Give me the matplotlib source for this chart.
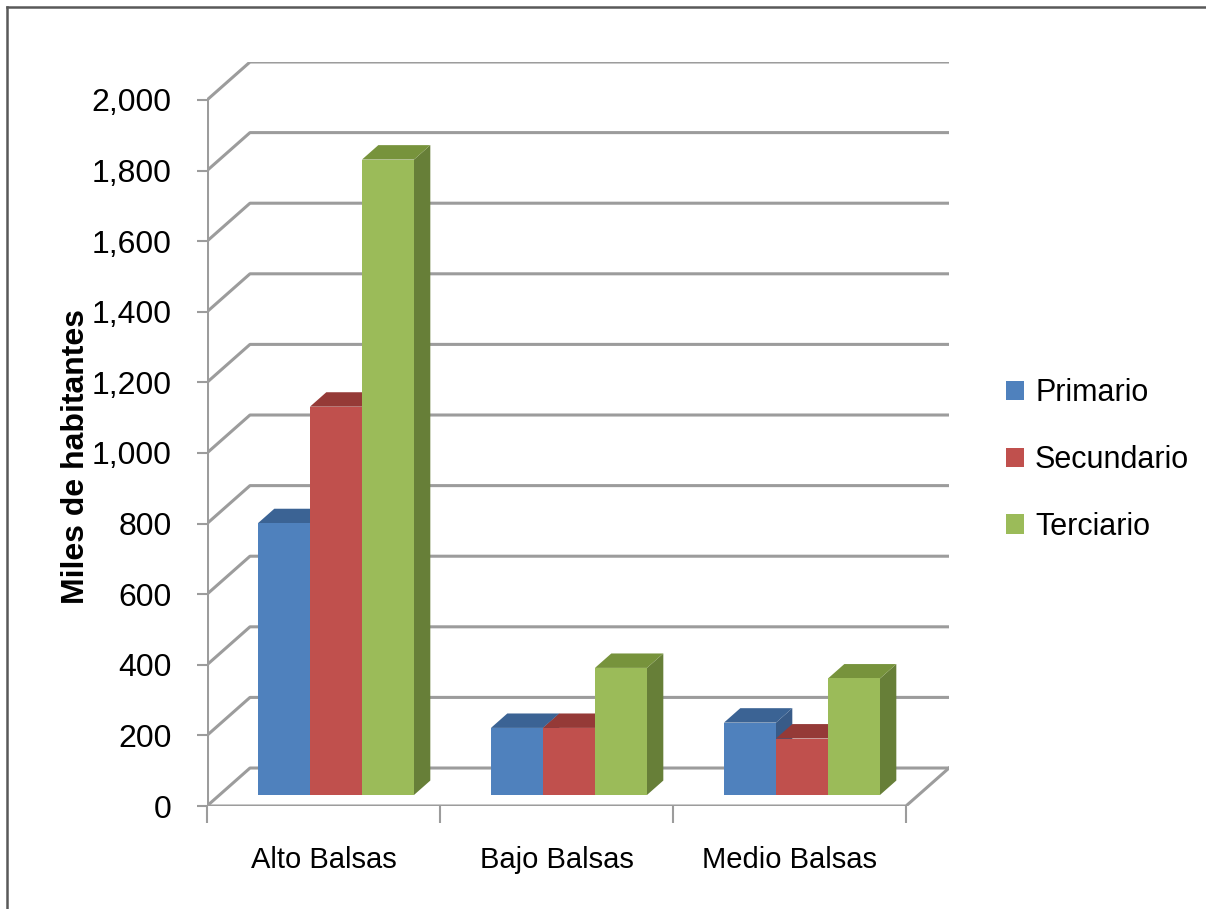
import matplotlib
matplotlib.use('Agg')
import matplotlib.pyplot as plt
from matplotlib.patches import Polygon, Patch
from matplotlib.lines import Line2D
from matplotlib.ticker import FuncFormatter

plt.rcParams['font.family'] = ['Liberation Sans', 'DejaVu Sans']

# Data
regions = ['Alto Balsas', 'Bajo Balsas', 'Medio Balsas']
series = ['Primario', 'Secundario', 'Terciario']
primario = [770, 190, 205]
secundario = [1100, 190, 160]
terciario = [1800, 360, 330]
y_ticks = list(range(0, 2001, 200))

front_colors = ['#4F81BD', '#C0504D', '#9BBB59']
top_colors = ['#3B6394', '#953A37', '#77933C']
side_colors = ['#385B88', '#8A3532', '#677F38']

# pseudo-3D geometry (depth offsets in data units)
DX = 0.1845    # full wall depth along x (category units)
DY = 107.6     # full wall depth along y (value units)
BAR_W = 0.2232
BAR_FRONT = 0.29   # depth fraction of bar front plane
BAR_DEPTH = 0.38   # bar depth as fraction of wall depth
GRID = '#9C9C9C'

W, H = 1206, 909
fig = plt.figure(figsize=(W / 100, H / 100), dpi=100)
ax = fig.add_axes([207 / W, (H - 806) / H, (949 - 207) / W, (806 - 62) / H])
ax.set_xlim(-0.5, 2.5 + DX)
ax.set_ylim(0, 2000 + DY)
for s in ax.spines.values():
    s.set_visible(False)

# walls: left-wall diagonals + back-wall gridlines
for t in y_ticks:
    ax.plot([-0.5, -0.5 + DX, 2.5 + DX], [t, t + DY, t + DY],
            color=GRID, lw=2.2, solid_capstyle='butt', zorder=1)
# floor front edge, right edge, front vertical axis
ax.plot([-0.5, 2.5, 2.5 + DX], [0, 0, DY], color=GRID, lw=2.2, zorder=1)
ax.plot([-0.5, -0.5], [0, 2000], color=GRID, lw=2.2, zorder=1)

# bars
values = [primario, secundario, terciario]
f0, f1 = BAR_FRONT, BAR_FRONT + BAR_DEPTH
z = 2
for c in range(len(regions)):
    for i in range(len(series)):
        v = values[i][c]
        x0 = c - 1.5 * BAR_W + i * BAR_W
        x1 = x0 + BAR_W
        front = [(x0 + f0 * DX, f0 * DY), (x1 + f0 * DX, f0 * DY),
                 (x1 + f0 * DX, v + f0 * DY), (x0 + f0 * DX, v + f0 * DY)]
        top = [(x0 + f0 * DX, v + f0 * DY), (x1 + f0 * DX, v + f0 * DY),
               (x1 + f1 * DX, v + f1 * DY), (x0 + f1 * DX, v + f1 * DY)]
        side = [(x1 + f0 * DX, f0 * DY), (x1 + f1 * DX, f1 * DY),
                (x1 + f1 * DX, v + f1 * DY), (x1 + f0 * DX, v + f0 * DY)]
        ax.add_patch(Polygon(side, closed=True, facecolor=side_colors[i], edgecolor='none', zorder=z))
        ax.add_patch(Polygon(top, closed=True, facecolor=top_colors[i], edgecolor='none', zorder=z))
        ax.add_patch(Polygon(front, closed=True, facecolor=front_colors[i], edgecolor='none', zorder=z))
        z += 1

# axes ticks and labels
ax.set_yticks(y_ticks)
ax.yaxis.set_major_formatter(FuncFormatter(lambda v, p: f'{int(v):,}'))
ax.tick_params(axis='y', length=7.5, width=1.5, color=GRID, pad=18, labelsize=23)
ax.set_xticks([-0.5, 0.5, 1.5, 2.5])
ax.set_xticklabels([])
ax.set_xticks([0, 1, 2], minor=True)
ax.set_xticklabels(regions, minor=True)
ax.tick_params(axis='x', which='major', length=12, width=1.5, color=GRID)
ax.tick_params(axis='x', which='minor', length=0, pad=29, labelsize=21)

fig.text(76 / W, 1 - 457 / H, 'Miles de habitantes', rotation=90, ha='center', va='center',
         fontsize=23, fontweight='bold')

handles = [Patch(facecolor=col, edgecolor='none', label=lab) for col, lab in zip(front_colors, series)]
fig.legend(handles=handles, loc='center left', bbox_to_anchor=(1006 / W, 1 - 460 / H),
           frameon=False, fontsize=22, handlelength=0.6, handleheight=0.6,
           handletextpad=0.35, labelspacing=1.2, borderpad=0, borderaxespad=0)

# chart-area border (left and top edges)
fig.add_artist(Line2D([7 / W, 7 / W], [0, 1 - 7 / H], color='#595959', lw=1.8))
fig.add_artist(Line2D([7 / W, 1], [1 - 7 / H, 1 - 7 / H], color='#595959', lw=1.8))

fig.savefig('out.png', dpi=100)
